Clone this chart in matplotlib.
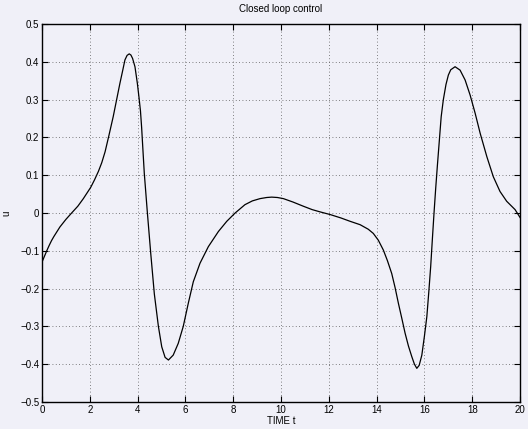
import numpy as np
import matplotlib.pyplot as plt

# values (time, control u)
t = [0.0, 0.1, 0.2, 0.3, 0.4, 0.5, 0.75, 1.0, 1.24, 1.5, 1.73, 2.04, 2.2,
     2.36, 2.5, 2.64, 2.8, 2.98, 3.12, 3.26, 3.38, 3.47, 3.56, 3.65, 3.72,
     3.79, 3.89, 3.99, 4.06, 4.12, 4.17, 4.22, 4.28, 4.41, 4.55, 4.70, 4.87,
     5.01, 5.15, 5.29, 5.49, 5.70, 5.91, 6.12, 6.33, 6.61, 6.96, 7.38, 7.73,
     8.08, 8.49, 8.8, 9.12, 9.4, 9.61, 9.85, 10.10, 10.5, 10.93, 11.3, 11.63,
     12.05, 12.5, 12.89, 13.31, 13.65, 13.86, 14.07, 14.28, 14.45, 14.63,
     14.77, 14.91, 15.05, 15.19, 15.33, 15.47, 15.58, 15.68, 15.78, 15.89,
     16.0, 16.10, 16.18, 16.26, 16.33, 16.40, 16.47, 16.54, 16.62, 16.70,
     16.79, 16.90, 17.0, 17.1, 17.28, 17.49, 17.70, 17.91, 18.12, 18.33,
     18.61, 18.88, 19.16, 19.44, 19.79, 20.0]
u = [-0.13, -0.115, -0.100, -0.086, -0.073, -0.062, -0.037, -0.017, 0.0,
     0.018, 0.038, 0.068, 0.088, 0.110, 0.133, 0.162, 0.205, 0.255, 0.299,
     0.343, 0.378, 0.405, 0.417, 0.421, 0.418, 0.409, 0.387, 0.343, 0.305,
     0.27, 0.225, 0.17, 0.105, 0.0, -0.107, -0.214, -0.30, -0.354, -0.382,
     -0.389, -0.376, -0.345, -0.30, -0.239, -0.182, -0.133, -0.089, -0.049,
     -0.022, 0.0, 0.022, 0.032, 0.038, 0.041, 0.042, 0.041, 0.038, 0.029,
     0.018, 0.009, 0.003, -0.004, -0.013, -0.022, -0.031, -0.043, -0.054,
     -0.072, -0.098, -0.126, -0.160, -0.197, -0.239, -0.278, -0.318, -0.352,
     -0.380, -0.400, -0.411, -0.403, -0.376, -0.325, -0.274, -0.21, -0.142,
     -0.07, 0.0, 0.065, 0.125, 0.19, 0.255, 0.30, 0.340, 0.365, 0.379, 0.387,
     0.378, 0.352, 0.312, 0.264, 0.211, 0.149, 0.096, 0.057, 0.031, 0.009,
     -0.012]

xticks = np.arange(0, 21, 2)
yticks = np.round(np.arange(-0.5, 0.51, 0.1), 1)

plt.rcParams['font.family'] = ['Liberation Sans', 'DejaVu Sans']
bg = '#f0f0f8'

fig = plt.figure(figsize=(5.28, 4.29), dpi=100, facecolor=bg)
ax = fig.add_axes([0.0795, 0.063, 0.9055, 0.881], facecolor=bg)

ax.plot(t, u, color='black', linewidth=0.9)

ax.set_xlim(0, 20)
ax.set_ylim(-0.5, 0.5)
ax.set_xticks(xticks)
ax.set_yticks(yticks)
ax.set_xticklabels([str(v) for v in xticks])
ax.set_yticklabels(['0' if v == 0 else f'{v:g}'.replace('-', '\u2212') for v in yticks])
ax.tick_params(direction='in', top=True, right=True, length=4, width=0.8,
               labelsize=7, pad=2)
ax.grid(True, linestyle=(0, (1, 3)), color='0.35', linewidth=0.6)
for s in ax.spines.values():
    s.set_linewidth(1.0)

ax.set_title('Closed loop control', fontsize=7, pad=8.5)
ax.set_xlabel('TIME t', fontsize=7, labelpad=1)
ax.set_ylabel('u', fontsize=7, labelpad=6)

fig.savefig('out.png', dpi=100, facecolor=bg)
